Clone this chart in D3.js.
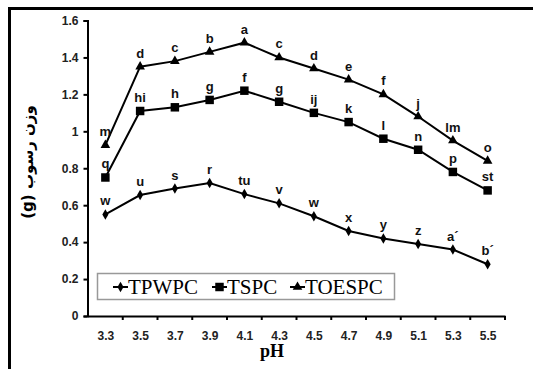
<!DOCTYPE html>
<html>
<head>
<meta charset="utf-8">
<script src="https://cdn.jsdelivr.net/npm/d3@7"></script>
<style>
  body { margin: 0; background: #fff; }
</style>
</head>
<body>
<div id="chart"></div>
<script>
// pH categories
const phValues = ["3.3", "3.5", "3.7", "3.9", "4.1", "4.3", "4.5", "4.7", "4.9", "5.1", "5.3", "5.5"];

// series values (g)
const tpwpc = [0.55, 0.655, 0.69, 0.72, 0.66, 0.61, 0.54, 0.46, 0.42, 0.39, 0.36, 0.28];
const tspc = [0.75, 1.11, 1.13, 1.17, 1.22, 1.16, 1.10, 1.05, 0.96, 0.90, 0.78, 0.68];
const toespc = [0.925, 1.35, 1.38, 1.43, 1.48, 1.40, 1.34, 1.28, 1.20, 1.08, 0.95, 0.84];

// significance letters
const tpwpcLetters = ["w", "u", "s", "r", "tu", "v", "w", "x", "y", "z", "a´", "b´"];
const tspcLetters = ["q", "hi", "h", "g", "f", "g", "ij", "k", "l", "n", "p", "st"];
const toespcLetters = ["m", "d", "c", "b", "a", "c", "d", "e", "f", "j", "lm", "o"];

const yTicks = [0, 0.2, 0.4, 0.6, 0.8, 1, 1.2, 1.4, 1.6];

const width = 533;
const height = 369;

const svg = d3.select("#chart")
  .append("svg")
  .attr("width", width)
  .attr("height", height)
  .style("display", "block");

// outer frame (top + left only)
svg.append("rect").attr("x", 8).attr("y", 7).attr("width", width - 8).attr("height", 3).attr("fill", "#000");
svg.append("rect").attr("x", 8).attr("y", 7).attr("width", 3).attr("height", height - 7).attr("fill", "#000");

// scales
const x = d3.scalePoint().domain(phValues).range([88, 505]).padding(0.5);
const xBand = d3.scaleBand().domain(phValues).range([88, 505]);
const y = d3.scaleLinear().domain([0, 1.6]).range([316, 20.5]);

const axisFont = "'Liberation Sans', Arial, sans-serif";

// y axis
const yAxis = svg.append("g")
  .attr("transform", "translate(87.5,0)")
  .call(d3.axisLeft(y).tickValues(yTicks).tickSize(4).tickPadding(5).tickFormat(d3.format("")));
yAxis.select(".domain").attr("stroke", "#000").attr("stroke-width", 2);
yAxis.selectAll(".tick line").attr("stroke", "#000").attr("stroke-width", 2);
yAxis.selectAll("text")
  .attr("fill", "#222")
  .style("font-family", axisFont)
  .style("font-weight", "bold")
  .style("font-size", "12px");

// x axis, ticks between categories
const xAxis = svg.append("g")
  .attr("transform", "translate(0,316)")
  .call(d3.axisBottom(x).tickSize(0).tickPadding(15));
xAxis.select(".domain").attr("stroke", "#000").attr("stroke-width", 2);
xAxis.selectAll("text")
  .attr("fill", "#222")
  .style("font-family", axisFont)
  .style("font-weight", "bold")
  .style("font-size", "12px");
xAxis.selectAll(".boundary")
  .data(phValues.slice(1).concat(["end"]))
  .enter()
  .append("line")
  .attr("x1", (d, i) => i < phValues.length - 1 ? xBand(d) : xBand.range()[1])
  .attr("x2", (d, i) => i < phValues.length - 1 ? xBand(d) : xBand.range()[1])
  .attr("y1", 0)
  .attr("y2", 4)
  .attr("stroke", "#000")
  .attr("stroke-width", 2);

// axis titles
svg.append("text")
  .attr("x", 272)
  .attr("y", 357)
  .attr("text-anchor", "middle")
  .style("font-family", "'Liberation Serif', 'Times New Roman', serif")
  .style("font-weight", "bold")
  .style("font-size", "18px")
  .text("pH");

svg.append("text")
  .attr("transform", "translate(33,162) rotate(-90)")
  .attr("text-anchor", "middle")
  .attr("direction", "rtl")
  .style("font-family", "'DejaVu Sans', sans-serif")
  .style("font-weight", "bold")
  .style("font-size", "15px")
  .text("وزن رسوب (g)");

// series
const series = [
  { name: "TPWPC", values: tpwpc, letters: tpwpcLetters, symbol: d3.symbolDiamond, size: 32 },
  { name: "TSPC", values: tspc, letters: tspcLetters, symbol: d3.symbolSquare, size: 72 },
  { name: "TOESPC", values: toespc, letters: toespcLetters, symbol: d3.symbolTriangle, size: 40 }
];

const line = d3.line()
  .x((d, i) => x(phValues[i]))
  .y((d) => y(d));

series.forEach((s) => {
  svg.append("path")
    .datum(s.values)
    .attr("d", line)
    .attr("fill", "none")
    .attr("stroke", "#000")
    .attr("stroke-width", 2);

  svg.selectAll(null)
    .data(s.values)
    .enter()
    .append("path")
    .attr("d", d3.symbol().type(s.symbol).size(s.size))
    .attr("transform", (d, i) => `translate(${x(phValues[i])},${y(d)})`)
    .attr("fill", "#000");

  svg.selectAll(null)
    .data(s.values)
    .enter()
    .append("text")
    .attr("x", (d, i) => x(phValues[i]))
    .attr("y", (d) => y(d) - 9)
    .attr("text-anchor", "middle")
    .style("font-family", axisFont)
    .style("font-weight", "bold")
    .style("font-size", "13px")
    .attr("fill", "#111")
    .text((d, i) => s.letters[i]);
});

// legend
const legend = svg.append("g");
legend.append("rect")
  .attr("x", 97.5)
  .attr("y", 273.5)
  .attr("width", 297)
  .attr("height", 26)
  .attr("fill", "#fff")
  .attr("stroke", "#999")
  .attr("stroke-width", 1.5);

const legendX = [113, 212, 290];
series.forEach((s, i) => {
  const g = legend.append("g").attr("transform", `translate(${legendX[i]},287)`);
  g.append("line").attr("x1", 0).attr("x2", 15).attr("stroke", "#000").attr("stroke-width", 2);
  g.append("path")
    .attr("d", d3.symbol().type(s.symbol).size(s.size))
    .attr("transform", "translate(7.5,0)")
    .attr("fill", "#000");
  g.append("text")
    .attr("x", 15)
    .attr("y", 7)
    .style("font-family", "'Liberation Serif', 'Times New Roman', serif")
    .style("font-size", "21px")
    .text(s.name);
});
</script>
</body>
</html>
